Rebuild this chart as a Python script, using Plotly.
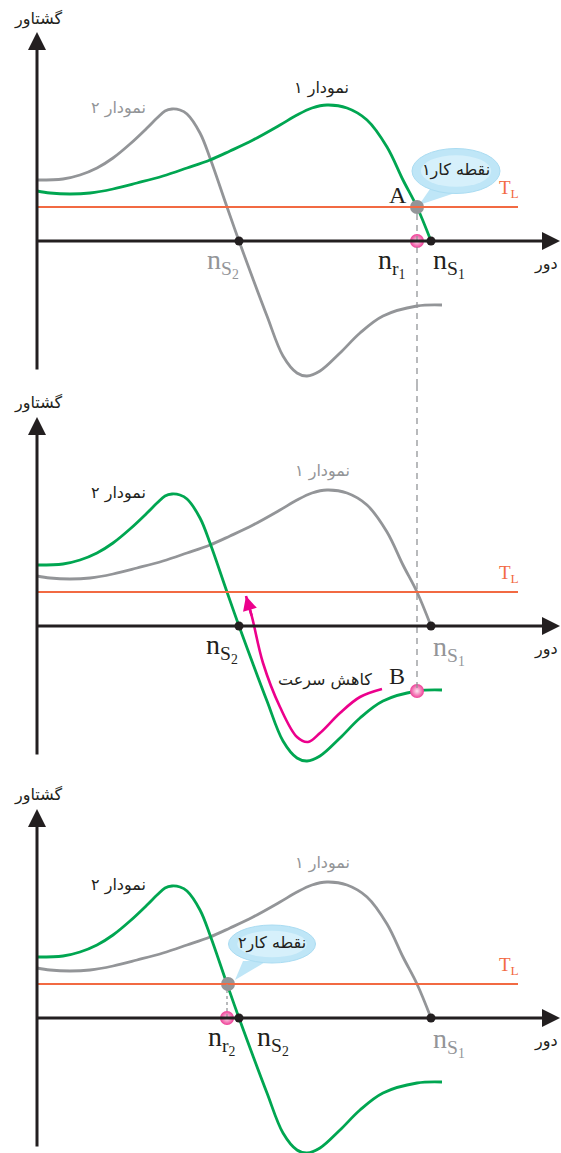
import plotly.graph_objects as go

# ---------------- data (speed on x, torque on y) ----------------
curve1_x = [0, 13, 33, 53, 76, 100, 126, 150, 173, 193, 216, 243, 260, 275, 290, 310, 330, 350, 366, 380, 394]
curve1_t = [50, 48, 47, 48, 52, 58, 65, 73, 81, 90, 101, 116, 126, 133, 136, 133, 121, 94, 61, 34, 0]

curve2_x = [0, 26, 43, 60, 76, 93, 110, 120, 128, 135, 143, 150, 163, 173, 190, 202, 216, 230, 246, 260, 270,
            283, 303, 323, 346, 380, 405]
curve2_t = [61, 62, 66, 73, 83, 97, 113, 123, 130, 132, 131, 127, 108, 83, 34, 0, -38, -75, -115, -132, -135,
            -130, -112, -92, -75, -65, -64]

decel_x = [345, 323, 303, 283, 271, 260, 243, 226, 215, 209]
decel_t = [-63, -71, -87, -107, -116, -111, -81, -37, 9, 30]

T_load = 34
ns1, ns2 = 394, 202
nr1, nr2 = 380, 190
point_B_t = -65

# ---------------- styling ----------------
GREEN = "#00a651"
GRAY = "#939598"
BLACK = "#231f20"
ORANGE = "#f26a43"
MAGENTA = "#ec008c"
PINK = "#ee3d96"
PINK_HI = "#fde4f0"
FA = "DejaVu Sans"
SERIF = "Liberation Serif"
FA_SIZE = 16

W, H = 561, 1153
X_RANGE = [-37, 524]
panels = [
    dict(yref="y", yaxis="yaxis", dom=(1 - 385 / H, 1.0), rng=[-144, 241]),
    dict(yref="y2", yaxis="yaxis2", dom=(1 - 777 / H, 1 - 385 / H), rng=[-151, 241]),
    dict(yref="y3", yaxis="yaxis3", dom=(0.0, 1 - 777 / H), rng=[-135, 241]),
]

fig = go.Figure()
annotations = []
shapes = []


def text(x, y, yref, s, color=BLACK, size=FA_SIZE, family=FA):
    annotations.append(dict(x=x, y=y, xref="x", yref=yref, text=s, showarrow=False,
                            font=dict(family=family, size=size, color=color),
                            xanchor="center", yanchor="middle"))


def arrow(x0, y0, x1, y1, yref, color, width, size=1.0, head=2):
    annotations.append(dict(x=x1, y=y1, ax=x0, ay=y0, xref="x", yref=yref, axref="x", ayref=yref,
                            text="", showarrow=True, arrowhead=head, arrowsize=size,
                            arrowwidth=width, arrowcolor=color))


def line_trace(x, y, yref, color, width=2.8):
    fig.add_trace(go.Scatter(x=x, y=y, xaxis="x", yaxis=yref, mode="lines",
                             line=dict(color=color, width=width, shape="spline", smoothing=1.0),
                             hoverinfo="skip", showlegend=False))


def dots(x, y, yref, color, size, gradient=None):
    marker = dict(color=color, size=size, line=dict(width=0))
    if gradient:
        marker["gradient"] = dict(type="radial", color=gradient)
    fig.add_trace(go.Scatter(x=x, y=y, xaxis="x", yaxis=yref, mode="markers",
                             marker=marker, hoverinfo="skip", showlegend=False))


def bubble(cx, cy, rx, ry, tail, yref, label):
    tx = [p[0] for p in tail]
    ty = [p[1] for p in tail]
    shapes.append(dict(type="path", xref="x", yref=yref,
                       path=f"M{tx[0]},{ty[0]} L{tx[1]},{ty[1]} L{tx[2]},{ty[2]} Z",
                       fillcolor="#bfe6f7", line=dict(width=0), layer="below"))
    shapes.append(dict(type="circle", xref="x", yref=yref, x0=cx - rx, x1=cx + rx, y0=cy - ry, y1=cy + ry,
                       fillcolor="#bfe6f7", line=dict(color="#aadcf2", width=1), layer="below"))
    shapes.append(dict(type="circle", xref="x", yref=yref, x0=cx - rx * 0.8, x1=cx + rx * 0.8,
                       y0=cy - ry * 0.7, y1=cy + ry * 0.7,
                       fillcolor="#d6f0fb", line=dict(width=0), layer="below"))
    text(cx, cy + 1, yref, label, BLACK, FA_SIZE)


for i, p in enumerate(panels):
    yr = p["yref"]
    # load torque line
    shapes.append(dict(type="line", xref="x", yref=yr, x0=0, x1=481, y0=T_load, y1=T_load,
                       line=dict(color=ORANGE, width=2)))
    # axes with arrows
    arrow(-1, 0, 523, 0, yr, BLACK, 3, 1.2)
    arrow(0, -130, 0, 209, yr, BLACK, 3, 1.2)
    text(1, 222 if i == 0 else 223, yr, "گشتاور", BLACK, FA_SIZE)
    text(509, -23, yr, "دور", BLACK, FA_SIZE)
    text(472, 52, yr, "T<sub>L</sub>", ORANGE, 19, SERIF)

    if i == 0:
        line_trace(curve2_x, curve2_t, yr, GRAY)
        line_trace(curve1_x, curve1_t, yr, GREEN)
        text(284, 153, yr, "نمودار ۱", BLACK)
        text(81, 133, yr, "نمودار ۲", GRAY)
    else:
        line_trace(curve1_x, curve1_t, yr, GRAY)
        line_trace(curve2_x, curve2_t, yr, GREEN)
        text(81, 133, yr, "نمودار ۲", BLACK)
        text(285, 155, yr, "نمودار ۱", GRAY)

# ---- panel 1 ----
shapes.append(dict(type="line", xref="x", yref="y", x0=nr1, x1=nr1, y0=27, y1=-144,
                   line=dict(color=GRAY, width=1.3, dash="6px,5px")))
bubble(419, 70, 44, 22.5, [(393, 52), (421, 49), (382, 36)], "y", "نقطه کار۱")
dots([ns2, ns1], [0, 0], "y", BLACK, 9)
dots([nr1], [T_load], "y", GRAY, 14)
dots([nr1], [0], "y", PINK, 14, PINK_HI)
text(186, -22, "y", "n<sub>S<sub>2</sub></sub>", GRAY, 28, SERIF)
text(355, -22, "y", "n<sub>r<sub>1</sub></sub>", BLACK, 28, SERIF)
text(412, -22, "y", "n<sub>S<sub>1</sub></sub>", BLACK, 28, SERIF)
text(361, 46, "y", "A", BLACK, 24, SERIF)

# ---- panel 2 ----
shapes.append(dict(type="line", xref="x", yref="y2", x0=nr1, x1=nr1, y0=241, y1=point_B_t,
                   line=dict(color=GRAY, width=1.3, dash="6px,5px")))
line_trace(decel_x, decel_t, "y2", MAGENTA, 2.6)
arrow(decel_x[-2], decel_t[-2], decel_x[-1], decel_t[-1], "y2", MAGENTA, 2.6, 1.1)
dots([ns2, ns1], [0, 0], "y2", BLACK, 9)
dots([nr1], [point_B_t], "y2", PINK, 14, PINK_HI)
text(185, -22, "y2", "n<sub>S<sub>2</sub></sub>", BLACK, 28, SERIF)
text(412, -24, "y2", "n<sub>S<sub>1</sub></sub>", GRAY, 28, SERIF)
text(360, -50, "y2", "B", BLACK, 24, SERIF)
text(288, -54, "y2", "کاهش سرعت", BLACK)

# ---- panel 3 ----
shapes.append(dict(type="line", xref="x", yref="y3", x0=nr2, x1=nr2, y0=T_load, y1=0,
                   line=dict(color=GRAY, width=1.3, dash="dot")))
bubble(235, 74, 43.5, 19, [(206, 57), (230, 57), (198, 38)], "y3", "نقطه کار۲")
dots([ns2, ns1], [0, 0], "y3", BLACK, 9)
dots([nr2 + 1], [T_load], "y3", GRAY, 14)
dots([nr2], [0], "y3", PINK, 14, PINK_HI)
text(185, -22, "y3", "n<sub>r<sub>2</sub></sub>", BLACK, 28, SERIF)
text(236, -22, "y3", "n<sub>S<sub>2</sub></sub>", BLACK, 28, SERIF)
text(412, -24, "y3", "n<sub>S<sub>1</sub></sub>", GRAY, 28, SERIF)

layout = dict(
    width=W, height=H, margin=dict(l=0, r=0, t=0, b=0),
    paper_bgcolor="white", plot_bgcolor="white", showlegend=False,
    xaxis=dict(domain=[0, 1], range=X_RANGE, visible=False, fixedrange=True),
    annotations=annotations, shapes=shapes,
)
for p in panels:
    layout[p["yaxis"]] = dict(domain=list(p["dom"]), range=p["rng"], visible=False,
                              anchor="x", fixedrange=True)
fig.update_layout(**layout)
fig.write_html("out.html", config={"displayModeBar": False},
               post_script="document.body.style.margin='0px';document.body.style.overflow='hidden';")
